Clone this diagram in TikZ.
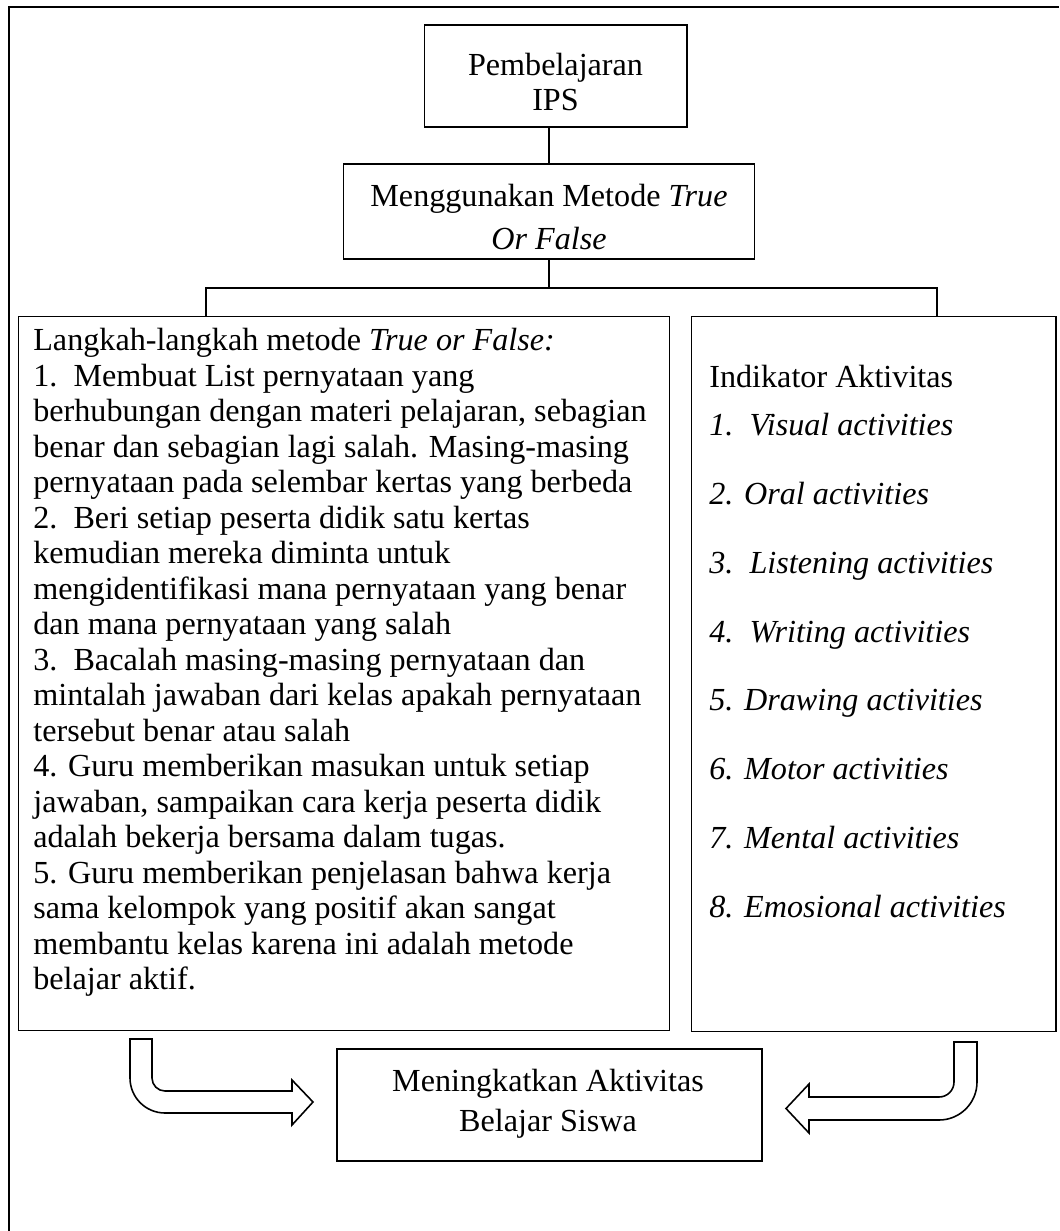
\documentclass[tikz,border=0pt]{standalone}
\usepackage{fontspec}
\setmainfont{Liberation Serif}
\usetikzlibrary{positioning}

\tikzset{
  kotak/.style={draw, line width=0.6pt, inner sep=0pt},
  teks/.style={font=\fontsize{18.3}{20.2}\selectfont, inner sep=0pt},
  panah/.style={draw, line width=0.9pt, fill=white, line join=miter},
}

\begin{document}
\begin{tikzpicture}[x=0.02cm, y=-0.02cm]

    %% Background
    \useasboundingbox (0,0) rectangle (1059,1231);

  % Bingkai luar
  \draw[line width=1.1pt] (9,1231) -- (9,7) -- (1059,7);

  % Kotak atas
  \node[kotak, minimum width=5.26cm, minimum height=2.04cm] (ips) at (555.5,76) {};
  \node[teks, align=center] (ipsisi) at (555.5,82) {Pembelajaran\\IPS};

  \node[kotak, minimum width=8.24cm, minimum height=1.9cm] (metode) at (549,211.5) {};
  \node[teks, align=center, font=\fontsize{18.3}{24.5}\selectfont] (metodeisi) at (549,217)
    {Menggunakan Metode \textit{True}\\\textit{Or False}};

  % Kotak langkah dan indikator
  \node[kotak, minimum width=13.04cm, minimum height=14.3cm] (langkah) at (344,673.5) {};
  \node[kotak, minimum width=7.3cm, minimum height=14.32cm] (indikator) at (873.5,674) {};

  \node[teks, anchor=north west, align=left] (langkahisi) at (33,328) {%
    Langkah-langkah metode \textit{True or False:}\\
    1.\ \ Membuat List pernyataan yang\\
    berhubungan dengan materi pelajaran, sebagian\\
    benar dan sebagian lagi salah. Masing-masing\\
    pernyataan pada selembar kertas yang berbeda\\
    2.\ \ Beri setiap peserta didik satu kertas\\
    kemudian mereka diminta untuk\\
    mengidentifikasi mana pernyataan yang benar\\
    dan mana pernyataan yang salah\\
    3.\ \ Bacalah masing-masing pernyataan dan\\
    mintalah jawaban dari kelas apakah pernyataan\\
    tersebut benar atau salah\\
    4. Guru memberikan masukan untuk setiap\\
    jawaban, sampaikan cara kerja peserta didik\\
    adalah bekerja bersama dalam tugas.\\
    5. Guru memberikan penjelasan bahwa kerja\\
    sama kelompok yang positif akan sangat\\
    membantu kelas karena ini adalah metode\\
    belajar aktif.};

  \node[teks, anchor=north west, align=left] (indikatorisi) at (709,365) {%
    Indikator Aktivitas\\[7pt]
    \textit{1.\ \ Visual activities}\\[19pt]
    \textit{2. Oral activities}\\[19pt]
    \textit{3.\ \ Listening activities}\\[19pt]
    \textit{4.\ \ Writing activities}\\[19pt]
    \textit{5. Drawing activities}\\[19pt]
    \textit{6. Motor activities}\\[19pt]
    \textit{7. Mental activities}\\[19pt]
    \textit{8. Emosional activities}};

  % Garis penghubung
  \coordinate (cabang) at (549,288);
  \coordinate (kiri) at (206,288);
  \coordinate (kanan) at (937,288);
  \draw[line width=0.6pt] (metode.north |- ips.south) -- (metode.north);
  \draw[line width=0.6pt] (metode.south) -- (cabang);
  \draw[line width=0.6pt] (kiri |- langkah.north) -- (kiri) -- (kanan) -- (kanan |- indikator.north);

  % Kotak hasil
  \node[kotak, line width=1.1pt, minimum width=8.5cm, minimum height=2.24cm] (hasil) at (549.5,1105) {};
  \node[teks, align=center, font=\fontsize{18.3}{22.5}\selectfont] (hasilisi) at (548,1103.5)
    {Meningkatkan Aktivitas\\Belajar Siswa};

  % Panah belok
  \draw[panah] (130,1039) -- (152,1039) -- (152,1078) arc (180:90:13)
    -- (292,1091) -- (292,1080) -- (313,1102) -- (292,1125) -- (292,1113)
    -- (165,1113) arc (90:180:35) -- cycle;
  \draw[panah] (977,1042) -- (954,1042) -- (954,1082) arc (0:90:15)
    -- (809,1097) -- (809,1084) -- (786,1108.5) -- (809,1133) -- (809,1120)
    -- (939,1120) arc (90:0:38) -- cycle;

\end{tikzpicture}
\end{document}
